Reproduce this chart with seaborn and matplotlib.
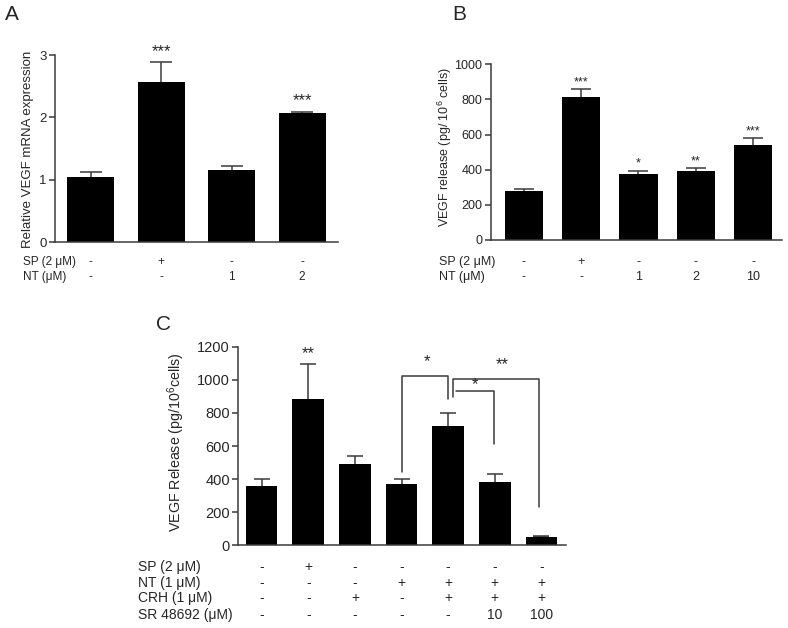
import matplotlib
matplotlib.use("Agg")
import matplotlib.pyplot as plt
import matplotlib.transforms as mtransforms
import seaborn as sns
import pandas as pd

sns.set_theme(style="ticks")
plt.rcParams["font.family"] = ["Liberation Sans", "DejaVu Sans"]
plt.rcParams["mathtext.fontset"] = "custom"
plt.rcParams["mathtext.rm"] = "Liberation Sans"
plt.rcParams["mathtext.default"] = "regular"

# ---------------- data ----------------
a_groups = ["a1", "a2", "a3", "a4"]
a_mean = [1.05, 2.56, 1.16, 2.07]
a_err = [0.07, 0.32, 0.07, 0.02]
a_stars = ["", "***", "", "***"]
a_row_names = ["SP (2 μM)", "NT (μM)"]
a_row_vals = [["-", "+", "-", "-"], ["-", "-", "1", "2"]]
a_yticks = [0, 1, 2, 3]

b_groups = ["b1", "b2", "b3", "b4", "b5"]
b_mean = [281, 814, 377, 393, 542]
b_err = [11, 45, 17, 17, 37]
b_stars = ["", "***", "*", "**", "***"]
b_row_names = ["SP (2 μM)", "NT (μM)"]
b_row_vals = [["-", "+", "-", "-", "-"], ["-", "-", "1", "2", "10"]]
b_yticks = [0, 200, 400, 600, 800, 1000]

c_groups = ["c1", "c2", "c3", "c4", "c5", "c6", "c7"]
c_mean = [360, 882, 489, 368, 723, 384, 52]
c_err = [40, 215, 49, 34, 74, 45, 3]
c_stars = ["", "**", "", "", "", "", ""]
c_row_names = ["SP (2 μM)", "NT (1 μM)", "CRH (1 μM)", "SR 48692 (μM)"]
c_row_vals = [["-", "+", "-", "-", "-", "-", "-"],
              ["-", "-", "-", "+", "+", "+", "+"],
              ["-", "-", "+", "-", "+", "+", "+"],
              ["-", "-", "-", "-", "-", "10", "100"]]
c_yticks = [0, 200, 400, 600, 800, 1000, 1200]
# comparison brackets: (x_left, x_right, top, left_leg_bottom, right_leg_bottom, label, label_x, label_y)
c_brackets = [
    (3.0, 4.0, 1023, 441, 882, "*", 3.54, 1109),
    (4.11, 5.95, 1007, 894, 233, "**", 5.15, 1089),
    (4.17, 4.98, 934, None, 610, "*", 4.57, 969),
]

W, H = 788, 628
fig = plt.figure(figsize=(W / 100, H / 100), dpi=100)
AX_COLOR = "#3a3a3a"


def px_rect(left, top, right, bottom):
    return [left / W, 1 - bottom / H, (right - left) / W, (bottom - top) / H]


def panel(rect, groups, means, errs, stars, ylim, yticks, xlim, width, capsize,
          tick_fs, star_fs, star_off):
    ax = fig.add_axes(px_rect(*rect))
    df = pd.DataFrame({"g": groups, "v": means})
    sns.barplot(data=df, x="g", y="v", color="black", saturation=1, width=width,
                errorbar=None, linewidth=0, ax=ax, zorder=3)
    xs = list(range(len(groups)))
    ax.errorbar(xs, means, yerr=errs, fmt="none", ecolor=AX_COLOR, elinewidth=1.1,
                capsize=capsize, capthick=1.1, zorder=1)
    for x, m, e, s in zip(xs, means, errs, stars):
        if s:
            ax.annotate(s, (x, m + e), xytext=(0, star_off), textcoords="offset points",
                        ha="center", va="center", fontsize=star_fs, annotation_clip=False)
    ax.set_xlim(*xlim)
    ax.set_ylim(*ylim)
    ax.set_yticks(yticks)
    ax.set_xticks([])
    ax.set_xlabel("")
    ax.set_ylabel("")
    sns.despine(ax=ax)
    for sp in ("left", "bottom"):
        ax.spines[sp].set_color(AX_COLOR)
        ax.spines[sp].set_linewidth(1.1)
        ax.spines[sp].set_zorder(4)
    ax.tick_params(axis="y", direction="out", length=4.5, width=1.1, color=AX_COLOR,
                   labelsize=tick_fs, pad=1.5)
    return ax


def rows(ax, names, vals, label_x, ys, fs):
    trans = mtransforms.blended_transform_factory(ax.transData, fig.transFigure)
    for name, row, y in zip(names, vals, ys):
        fy = 1 - y / H
        fig.text(label_x / W, fy, name, ha="left", va="center", fontsize=fs)
        for i, v in enumerate(row):
            ax.text(i, fy, v, transform=trans, ha="center", va="center", fontsize=fs)


# ---- Panel A ----
axA = panel((55, 55, 338, 242.3), a_groups, a_mean, a_err, a_stars, (0, 3), a_yticks,
            (-0.51, 3.51), 0.67, 8, 9.5, 12, 8)
rows(axA, a_row_names, a_row_vals, 23, [262, 277], 8.5)
fig.text(28 / W, 1 - 149 / H, "Relative VEGF mRNA expression", rotation=90,
         ha="center", va="center", fontsize=9.5)
fig.text(5 / W, 1 - 14 / H, "A", ha="left", va="center", fontsize=15)

# ---- Panel B ----
axB = panel((490.7, 64.3, 781.7, 240), b_groups, b_mean, b_err, b_stars, (0, 1000), b_yticks,
            (-0.58, 4.5), 0.67, 7, 9, 9, 5)
rows(axB, b_row_names, b_row_vals, 439, [261.7, 276.7], 9)
fig.text(444.5 / W, 1 - 147 / H, r"VEGF release (pg/ 10$^{6}$ cells)", rotation=90,
         ha="center", va="center", fontsize=9)
fig.text(452 / W, 1 - 14 / H, "B", ha="left", va="center", fontsize=15)

# ---- Panel C ----
axC = panel((238.3, 346.7, 565.7, 545.3), c_groups, c_mean, c_err, c_stars, (0, 1200), c_yticks,
            (-0.5, 6.52), 0.68, 6, 10.5, 12, 7)
rows(axC, c_row_names, c_row_vals, 138, [566.7, 582.7, 598.3, 615], 10)
fig.text(176 / W, 1 - 442 / H, r"VEGF Release (pg/10$^{6}$cells)", rotation=90,
         ha="center", va="center", fontsize=10.3)
fig.text(156 / W, 1 - 324 / H, "C", ha="left", va="center", fontsize=15)

for xl, xr, top, lb, rb, lab, lx, ly in c_brackets:
    xs_line = [xl, xl, xr, xr] if lb is not None else [xl, xr, xr]
    ys_line = [lb, top, top, rb] if lb is not None else [top, top, rb]
    axC.plot(xs_line, ys_line, color=AX_COLOR, lw=1.1, clip_on=False)
    axC.text(lx, ly, lab, ha="center", va="center", fontsize=12)

fig.savefig("out.png", dpi=100)
